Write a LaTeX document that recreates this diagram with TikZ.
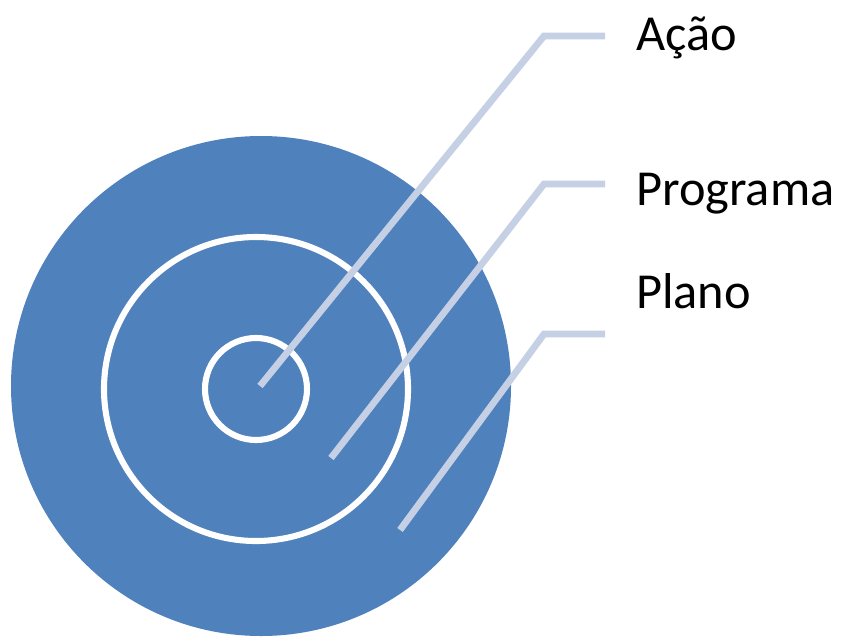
\documentclass[tikz,border=0pt]{standalone}
\usepackage{fontspec}
\setmainfont{Carlito}
\usepackage{xcolor,tikz}
\usetikzlibrary{positioning}
\definecolor{targetblue}{RGB}{79,129,189}
\definecolor{leaderblue}{RGB}{197,208,229}
\tikzset{
  ringline/.style={draw=white, line width=5.2pt},
  leader/.style={draw=leaderblue, line width=5.8pt},
  levelname/.style={anchor=base west, inner sep=0pt, font=\fontsize{43}{50}\selectfont}
}
\begin{document}
\begin{tikzpicture}[x=0.03cm, y=-0.03cm]
        \useasboundingbox (0,0) rectangle (844,640);
        %%%% target
        \fill[targetblue] (261,386) circle (250);
        \draw[ringline] (256,389) circle (152);
        \draw[ringline] (256,389) circle (51);
        %%%% leader ends
        \coordinate (acaoTip) at (260,386);
        \coordinate (acaoBend) at (544,36);
        \coordinate (acaoEnd) at (605,36);
        \coordinate (progTip) at (331,458);
        \coordinate (progBend) at (544,184);
        \coordinate (progEnd) at (605,184);
        \coordinate (planoTip) at (400,530);
        \coordinate (planoBend) at (544,334);
        \coordinate (planoEnd) at (605,334);
        \draw[leader] (acaoTip) -- (acaoBend) -- (acaoEnd);
        \draw[leader] (progTip) -- (progBend) -- (progEnd);
        \draw[leader] (planoTip) -- (planoBend) -- (planoEnd);
        %%%% labels
        \node[levelname] (acao) at (636,50) {Ação};
        \node[levelname] (programa) at (636,205) {Programa};
        \node[levelname] (plano) at (636,308) {Plano};
    \end{tikzpicture}
\end{document}
